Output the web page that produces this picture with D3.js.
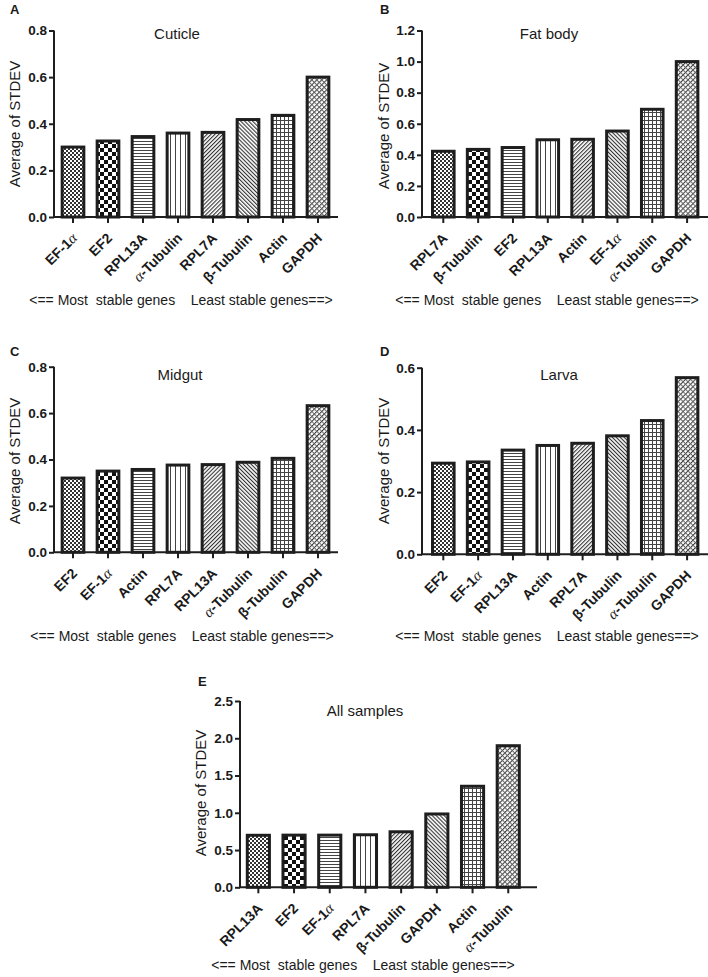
<!DOCTYPE html>
<html><head><meta charset="utf-8">
<script src="https://cdn.jsdelivr.net/npm/d3@7"></script>
<style>
html,body{margin:0;padding:0;background:#fff;}
svg text{font-family:"Liberation Sans",Arial,sans-serif;fill:#1a1a1a;}
</style></head>
<body>
<svg id="chart" width="708" height="977"></svg>
<script>
// ---------- DATA ----------
const catsA = ["EF-1α","EF2","RPL13A","α-Tubulin","RPL7A","β-Tubulin","Actin","GAPDH"];
const valsA = [0.300,0.326,0.345,0.360,0.363,0.418,0.436,0.600];
const ticksA = [0,0.2,0.4,0.6,0.8];

const catsB = ["RPL7A","β-Tubulin","EF2","RPL13A","Actin","EF-1α","α-Tubulin","GAPDH"];
const valsB = [0.423,0.435,0.447,0.497,0.500,0.553,0.693,1.000];
const ticksB = [0,0.2,0.4,0.6,0.8,1.0,1.2];

const catsC = ["EF2","EF-1α","Actin","RPL7A","RPL13A","α-Tubulin","β-Tubulin","GAPDH"];
const valsC = [0.320,0.350,0.357,0.376,0.378,0.388,0.405,0.632];
const ticksC = [0,0.2,0.4,0.6,0.8];

const catsD = ["EF2","EF-1α","RPL13A","Actin","RPL7A","β-Tubulin","α-Tubulin","GAPDH"];
const valsD = [0.293,0.297,0.335,0.350,0.357,0.381,0.430,0.568];
const ticksD = [0,0.2,0.4,0.6];

const catsE = ["RPL13A","EF2","EF-1α","RPL7A","β-Tubulin","GAPDH","Actin","α-Tubulin"];
const valsE = [0.698,0.700,0.700,0.705,0.745,0.984,1.356,1.900];
const ticksE = [0,0.5,1.0,1.5,2.0,2.5];

const titles = ["Cuticle","Fat body","Midgut","Larva","All samples"];
const letters = ["A","B","C","D","E"];
const yLabel = "Average of STDEV";
const caption = "<== Most  stable genes    Least stable genes==>";

// ---------- LAYOUT ----------
const layout = [
  {cats:catsA, vals:valsA, ticks:ticksA, ax:54,  axEnd:338, band:[55.5,335.5], y0:217,   yTop:30.5, letter:[10,14],  titleXY:[177,39],  ylab:[20,124],  capXY:[181,305]},
  {cats:catsB, vals:valsB, ticks:ticksB, ax:422, axEnd:708, band:[425.9,704.5], y0:217,  yTop:30.5, letter:[380,14], titleXY:[549,39],  ylab:[389,126], capXY:[547,305]},
  {cats:catsC, vals:valsC, ticks:ticksC, ax:54,  axEnd:338, band:[55.5,335.5], y0:552.3, yTop:366.7, letter:[10,356], titleXY:[180,380], ylab:[20,461], capXY:[182,641]},
  {cats:catsD, vals:valsD, ticks:ticksD, ax:422, axEnd:708, band:[425.9,704.5], y0:554.3, yTop:367.7, letter:[380,356], titleXY:[559,380], ylab:[389,461], capXY:[547,641]},
  {cats:catsE, vals:valsE, ticks:ticksE, ax:240, axEnd:537, band:[240.5,526.1], y0:887.3, yTop:701, letter:[198,686], titleXY:[365,716], ylab:[206,793], capXY:[363,970]}
];

const svg = d3.select("#chart");
const ink = "#1e1e1e";

// ---------- PATTERNS ----------
const defs = svg.append("defs");
function pat(id, w, h, tf){
  const p = defs.append("pattern").attr("id",id).attr("patternUnits","userSpaceOnUse")
    .attr("width",w).attr("height",h);
  if (tf) p.attr("patternTransform",tf);
  p.append("rect").attr("width",w).attr("height",h).attr("fill","#fff");
  return p;
}
let p;
p = pat("p0",4,4); p.append("rect").attr("width",2).attr("height",2).attr("fill","#333");
  p.append("rect").attr("x",2).attr("y",2).attr("width",2).attr("height",2).attr("fill","#333");
p = pat("p1",8,8); p.append("rect").attr("width",4).attr("height",4).attr("fill","#111");
  p.append("rect").attr("x",4).attr("y",4).attr("width",4).attr("height",4).attr("fill","#111");
p = pat("p2",4,3); p.append("rect").attr("width",4).attr("height",1).attr("fill","#444");
p = pat("p3",5,4); p.append("rect").attr("width",1).attr("height",4).attr("fill","#444");
p = pat("p4",2.8,3,"rotate(45)"); p.append("rect").attr("width",1.1).attr("height",3).attr("fill","#333");
p = pat("p5",2.8,3,"rotate(-45)"); p.append("rect").attr("width",1.1).attr("height",3).attr("fill","#333");
p = pat("p6",4,4); p.append("rect").attr("width",4).attr("height",1).attr("fill","#444");
  p.append("rect").attr("width",1).attr("height",4).attr("fill","#444");
p = pat("p7",3.5,3.5,"rotate(45)"); p.append("rect").attr("width",1).attr("height",3.5).attr("fill","#333");
  p.append("rect").attr("width",3.5).attr("height",1).attr("fill","#666");

// ---------- DRAW ----------
function labelText(sel, s){
  const parts = s.split(/(α)/).filter(t=>t.length);
  parts.forEach(t=>{
    const ts = sel.append("tspan").text(t);
    if (t==="α") ts.attr("font-family","'Liberation Serif',serif").attr("font-weight","normal").attr("font-style","italic").attr("font-size","15px");
  });
}

layout.forEach((L,i)=>{
  const g = svg.append("g");
  const x = d3.scaleBand().domain(L.cats).range(L.band).paddingInner(0.38).paddingOuter(0.19);
  const y = d3.scaleLinear().domain([0, d3.max(L.ticks)]).range([L.y0, L.yTop]);

  // bars
  g.selectAll("rect.bar").data(L.cats.map((c,j)=>({c, v:L.vals[j], j})))
    .join("rect").attr("class","bar")
    .attr("x", d=>x(d.c)).attr("width", x.bandwidth())
    .attr("y", d=>y(d.v)).attr("height", d=>L.y0 - y(d.v))
    .attr("fill", d=>`url(#p${d.j})`)
    .attr("stroke", ink).attr("stroke-width", 3);

  // y axis
  const ya = g.append("g").attr("transform",`translate(${L.ax},0)`)
    .call(d3.axisLeft(y).tickValues(L.ticks).tickFormat(d3.format(".1f")).tickSize(5).tickPadding(2));
  ya.select(".domain").attr("stroke",ink).attr("stroke-width",2).attr("d",`M0,${L.y0}V${L.yTop}`);
  ya.selectAll(".tick line").attr("stroke",ink).attr("stroke-width",2);
  ya.selectAll(".tick text").attr("font-size","13.5px").attr("font-weight","bold")
    .attr("font-family","'Liberation Sans',Arial,sans-serif").attr("fill",ink);

  // x axis
  const xa = g.append("g").attr("transform",`translate(0,${L.y0})`)
    .call(d3.axisBottom(x).tickSize(6).tickFormat(""));
  xa.select(".domain").attr("stroke",ink).attr("stroke-width",2).attr("d",`M${L.ax-1},0H${L.axEnd}`);
  xa.selectAll(".tick line").attr("stroke",ink).attr("stroke-width",2);
  xa.selectAll(".tick text").remove();
  L.cats.forEach(c=>{
    const cx = x(c) + x.bandwidth()/2;
    const t = g.append("text").attr("text-anchor","end").attr("font-size","14px").attr("font-weight","bold")
      .attr("transform",`translate(${cx+5},${L.y0+22}) rotate(-45)`);
    labelText(t, c);
  });

  // y label
  g.append("text").attr("transform",`translate(${L.ylab[0]},${L.ylab[1]}) rotate(-90)`)
    .attr("text-anchor","middle").attr("font-size","15px").text(yLabel);
  // title
  g.append("text").attr("x",L.titleXY[0]).attr("y",L.titleXY[1]).attr("text-anchor","middle")
    .attr("font-size","15px").text(titles[i]);
  // letter
  g.append("text").attr("x",L.letter[0]).attr("y",L.letter[1]).attr("font-size","13px")
    .attr("font-weight","bold").text(letters[i]);
  // caption
  g.append("text").attr("x",L.capXY[0]).attr("y",L.capXY[1]).attr("text-anchor","middle")
    .attr("font-size","14px").style("white-space","pre").text(caption);
});
</script>
</body></html>
